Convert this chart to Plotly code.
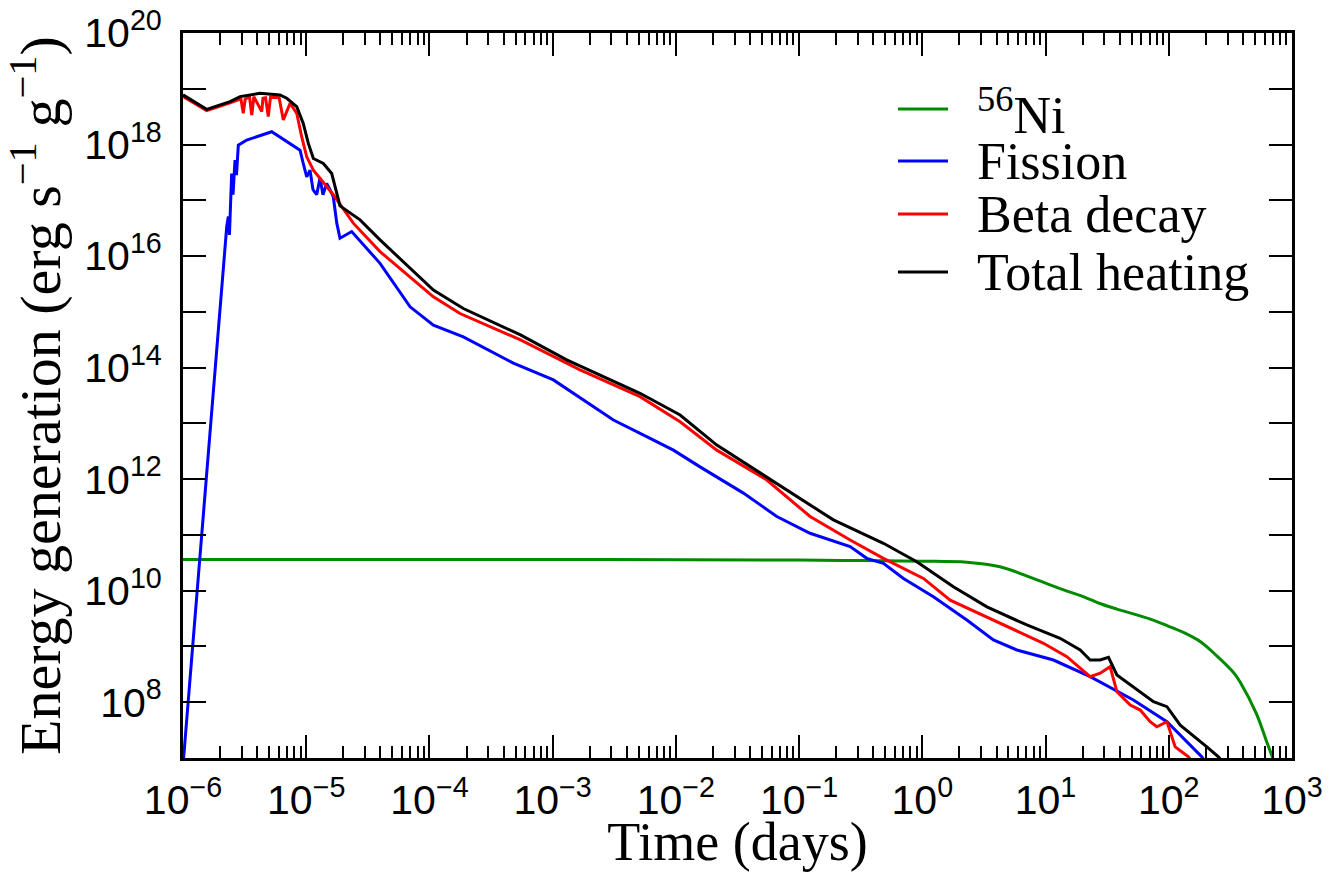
import numpy as np
import plotly.graph_objects as go

# ---- data (log10 of time in days, log10 of energy generation) ----
ni_logt = [-6.0, -3.0, -1.0, -0.5, 0.0, 0.36, 0.63, 0.90, 1.10, 1.31, 1.44, 1.58, 1.85, 1.99,
           2.12, 2.26, 2.39, 2.53, 2.58, 2.71, 2.79, 2.84, 2.87]
ni_loge = [10.56, 10.56, 10.55, 10.54, 10.53, 10.51, 10.43, 10.22, 10.05, 9.89, 9.77, 9.67, 9.49, 9.37,
           9.25, 9.08, 8.83, 8.52, 8.36, 7.80, 7.32, 7.02, 6.80]

fis_logt = [-5.995, -5.645, -5.632, -5.623, -5.605, -5.594, -5.578, -5.566, -5.551, -5.483, -5.280,
            -5.050, -5.024, -4.996, -4.969, -4.945, -4.915, -4.888, -4.864, -4.834, -4.807, -4.780,
            -4.752, -4.726, -4.631, -4.401, -4.157, -3.968, -3.725, -3.319, -2.994, -2.507, -2.209,
            -2.020, -1.804, -1.452, -1.181, -0.911, -0.586, -0.451, -0.316, -0.153, 0.090, 0.361,
            0.577, 0.767, 1.064, 1.362, 1.713, 1.985, 2.269, 2.30]
fis_loge = [7.00, 16.53, 16.71, 16.38, 17.48, 17.10, 17.72, 17.45, 17.99, 18.08, 18.23,
            17.90, 17.66, 17.42, 17.54, 17.19, 17.10, 17.40, 17.10, 17.30, 17.19, 17.06,
            16.59, 16.32, 16.44, 15.87, 15.09, 14.76, 14.55, 14.08, 13.78, 13.06, 12.73,
            12.52, 12.22, 11.75, 11.33, 11.03, 10.79, 10.58, 10.49, 10.22, 9.89, 9.475,
            9.116, 8.937, 8.757, 8.458, 8.04, 7.65, 7.02, 6.90]

beta_logt = [-6.0, -5.808, -5.618, -5.594, -5.53, -5.511, -5.495, -5.46, -5.442, -5.425, -5.361,
             -5.351, -5.33, -5.308, -5.29, -5.22, -5.186, -5.131, -5.077, -5.037, -4.996, -4.942,
             -4.861, -4.780, -4.618, -4.401, -3.968, -3.752, -3.265, -2.778, -2.291, -1.966,
             -1.668, -1.262, -0.911, -0.586, -0.316, 0.009, 0.226, 0.550, 0.983, 1.173, 1.362,
             1.443, 1.524, 1.579, 1.687, 1.768, 1.849, 1.903, 1.985, 2.052, 2.160, 2.20]
beta_loge = [18.86, 18.61, 18.75, 18.77, 18.82, 18.56, 18.82, 18.85, 18.53, 18.86, 18.59,
             18.83, 18.84, 18.50, 18.85, 18.84, 18.44, 18.74, 18.56, 18.14, 17.78, 17.54,
             17.33, 17.10, 16.59, 16.08, 15.27, 14.97, 14.50, 13.96, 13.48, 13.03,
             12.52, 11.985, 11.33, 10.91, 10.58, 10.22, 9.83, 9.505, 9.057, 8.817, 8.458,
             8.52, 8.637, 8.19, 7.95, 7.86, 7.65, 7.56, 7.65, 7.20, 7.02, 6.90]

tot_logt = [-6.0, -5.808, -5.618, -5.537, -5.375, -5.213, -5.158, -5.077, -5.024, -4.983, -4.942,
            -4.861, -4.793, -4.752, -4.726, -4.563, -4.401, -3.968, -3.725, -3.265, -2.886,
            -2.291, -1.966, -1.668, -1.262, -0.722, -0.316, -0.045, 0.252, 0.524, 0.848, 1.118,
            1.281, 1.362, 1.443, 1.511, 1.579, 1.741, 1.876, 1.985, 2.093, 2.309, 2.403, 2.45]
tot_loge = [18.89, 18.63, 18.77, 18.86, 18.92, 18.89, 18.83, 18.68, 18.38, 18.02, 17.75,
            17.66, 17.48, 17.10, 16.90, 16.65, 16.29, 15.39, 15.06, 14.59, 14.14,
            13.54, 13.15, 12.61, 12.04, 11.27, 10.85, 10.52, 10.07, 9.71, 9.385, 9.146,
            8.937, 8.757, 8.757, 8.806, 8.489, 8.22, 8.01, 7.92, 7.59, 7.20, 7.02, 6.90]

series_names = ["<sup>56</sup>Ni", "Fission", "Beta decay", "Total heating"]
series_colors = ["#008a00", "#0000ff", "#ff0000", "#000000"]
series_data = [(ni_logt, ni_loge), (fis_logt, fis_loge), (beta_logt, beta_loge), (tot_logt, tot_loge)]
series_shapes = ["spline", "linear", "linear", "linear"]

x_decades = list(range(-6, 4))
y_decades = list(range(7, 21))

SERIF = "Liberation Serif, Times New Roman, serif"
SANS = "Liberation Sans, Arial, sans-serif"

fig = go.Figure()
for name, (lt, le), col, shp in zip(series_names, series_data, series_colors, series_shapes):
    fig.add_trace(go.Scatter(
        x=10 ** np.array(lt), y=10 ** np.array(le), mode="lines", name=name,
        line=dict(color=col, width=3, shape=shp), showlegend=False,
    ))

x_tickvals = [10.0 ** d for d in x_decades]
x_ticktext = [f"10<sup>{'−' + str(-d) if d < 0 else d}</sup>" for d in x_decades]
x_minor = [m * 10.0 ** d for d in x_decades[:-1] for m in range(2, 10)]

y_tickvals = [10.0 ** d for d in y_decades]
y_ticktext = [f"10<sup>{d}</sup>" if d % 2 == 0 else "" for d in y_decades]

axis_common = dict(
    showline=True, linewidth=3, linecolor="black", mirror="ticks",
    ticks="inside", tickwidth=2, tickcolor="black", ticklen=23,
    showgrid=False, zeroline=False, automargin=False,
    tickfont=dict(family=SANS, size=41, color="black"),
)

fig.update_xaxes(
    type="log", range=[-6, 3],
    tickmode="array", tickvals=x_tickvals, ticktext=x_ticktext,
    ticklabelstandoff=4,
    minor=dict(tickmode="array", tickvals=x_minor, ticks="inside", ticklen=12,
               tickwidth=2, tickcolor="black", showgrid=False),
    title=dict(text="Time (days)", standoff=3,
               font=dict(family=SERIF, size=54, color="black")),
    **axis_common,
)
fig.update_yaxes(
    type="log", range=[7, 20],
    tickmode="array", tickvals=y_tickvals, ticktext=y_ticktext,
    ticklabelstandoff=10,
    title=dict(text="Energy generation (erg s<sup>−1</sup> g<sup>−1</sup>)", standoff=6,
               font=dict(family=SERIF, size=58, color="black")),
    **axis_common,
)

# legend drawn as line samples + labels (positions in paper units)
leg_line_x0, leg_line_x1, leg_text_x = 0.6447, 0.6898, 0.7142
leg_rows_y = [0.8952, 0.8234, 0.7503, 0.6703]
leg_text_shift = [-3, 0, 0, 0]
for name, col, ly, ys in zip(series_names, series_colors, leg_rows_y, leg_text_shift):
    fig.add_shape(type="line", xref="paper", yref="paper",
                  x0=leg_line_x0, x1=leg_line_x1, y0=ly, y1=ly,
                  line=dict(color=col, width=3))
    fig.add_annotation(xref="paper", yref="paper", x=leg_text_x, y=ly, yshift=ys,
                       xanchor="left", yanchor="middle", showarrow=False,
                       text=name, font=dict(family=SERIF, size=52, color="black"))

fig.update_layout(
    width=1331, height=872,
    margin=dict(l=183, r=39, t=33, b=114),
    paper_bgcolor="white", plot_bgcolor="white",
    showlegend=False,
)

fig.write_html("out.html", config={"displayModeBar": False},
               post_script="document.body.style.margin='0px';")
